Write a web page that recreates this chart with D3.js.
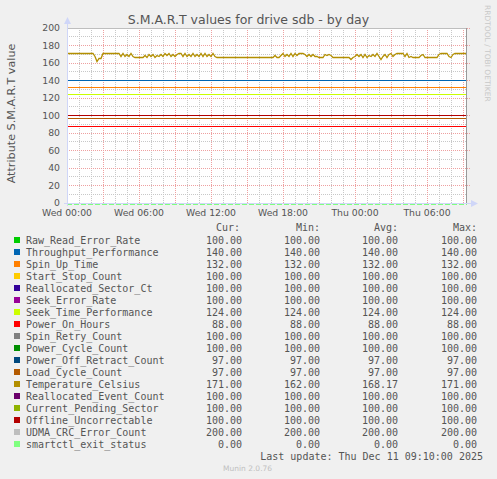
<!DOCTYPE html>
<html>
<head>
<meta charset="utf-8">
<script src="https://cdn.jsdelivr.net/npm/d3@7"></script>
<style>
  body { margin: 0; background: #f0f0f0; }
  svg { display: block; }
  text { fill: #555; }
</style>
</head>
<body>
<div id="chart"></div>
<script>
// series shown in the legend, in munin draw order
const names = [
  "Raw_Read_Error_Rate", "Throughput_Performance", "Spin_Up_Time", "Start_Stop_Count",
  "Reallocated_Sector_Ct", "Seek_Error_Rate", "Seek_Time_Performance", "Power_On_Hours",
  "Spin_Retry_Count", "Power_Cycle_Count", "Power_Off_Retract_Count", "Load_Cycle_Count",
  "Temperature_Celsius", "Reallocated_Event_Count", "Current_Pending_Sector",
  "Offline_Uncorrectable", "UDMA_CRC_Error_Count", "smartctl_exit_status"
];
const colors = [
  "#00CC00", "#0066B3", "#FF8000", "#FFCC00", "#330099", "#990099", "#CCFF00", "#FF0000",
  "#808080", "#008F00", "#00487D", "#B35A00", "#B38F00", "#6B006B", "#8FB300",
  "#B30000", "#BEBEBE", "#80FF80"
];
const cur = [100, 140, 132, 100, 100, 100, 124, 88, 100, 100, 97, 97, 171, 100, 100, 100, 200, 0];
const min = [100, 140, 132, 100, 100, 100, 124, 88, 100, 100, 97, 97, 162, 100, 100, 100, 200, 0];
const avg = [100, 140, 132, 100, 100, 100, 124, 88, 100, 100, 97, 97, 168.17, 100, 100, 100, 200, 0];
const max = [100, 140, 132, 100, 100, 100, 124, 88, 100, 100, 97, 97, 171, 100, 100, 100, 200, 0];

// Temperature_Celsius, one value every 10 minutes from Wed 00:00
const temperature = [
  171, 171, 171, 171, 171, 171, 171, 171, 171, 171, 171, 171, 171, 171,
  168, 162, 165, 165, 171,
  171, 171, 171, 171, 171, 171, 171, 171,
  168, 171, 168, 170, 168, 171, 168,
  166, 166, 166, 166, 166,
  169, 166, 170, 167, 170, 166, 169, 167, 170, 168, 171, 169, 171, 168, 170, 167, 170,
  171, 171,
  168, 171, 168, 170, 167, 171, 168, 170, 168,
  171, 168, 171, 167, 170, 167, 171, 168,
  166, 166, 166, 166, 166, 166, 166, 166, 166, 166, 166, 166, 166, 166, 166,
  166, 166, 166, 166, 166, 166, 166, 166, 166, 166, 166, 166, 166, 166,
  169, 166, 166,
  169, 171, 168, 170, 167, 171, 168, 171, 169,
  171, 171, 171, 170,
  168, 170, 167, 170, 168, 167,
  166, 166, 166,
  170, 169, 170, 169, 166,
  166, 166, 166, 166, 166, 166, 166, 166,
  164, 166,
  168, 170, 167, 170,
  166, 170, 166, 169, 167, 170,
  168, 171, 167, 164, 168,
  170, 166, 170, 171, 167, 170, 171,
  171, 171, 171,
  168, 171, 166, 168,
  166, 166, 166, 166,
  169, 170, 166,
  166, 166, 166, 166, 166, 166,
  170, 171, 171, 171, 171,
  167, 166, 170,
  171, 171, 171, 171, 171, 171, 171
];
const yTicks = [0, 20, 40, 60, 80, 100, 120, 140, 160, 180, 200];

const width = 497;
const height = 479;
const plot = { left: 67, right: 467, top: 28, bottom: 203 };

const start = new Date(Date.UTC(2025, 11, 10, 0, 0));
const end = new Date(start.getTime() + 2000 * 60000);
const step = 10 * 60000;

const svg = d3.select("#chart")
  .append("svg")
  .attr("width", width)
  .attr("height", height);

const x = d3.scaleUtc()
  .domain([start, end])
  .range([plot.left, plot.right]);

const y = d3.scaleLinear()
  .domain([0, 200])
  .range([plot.bottom, plot.top]);

svg.append("rect")
  .attr("x", plot.left).attr("y", plot.top)
  .attr("width", plot.right - plot.left).attr("height", plot.bottom - plot.top)
  .attr("fill", "#fff");

// grid
const grid = svg.append("g").attr("shape-rendering", "crispEdges").attr("stroke-dasharray", "1,1");
grid.selectAll(".vmin")
  .data(x.ticks(d3.utcHour.every(1)))
  .join("line")
    .attr("x1", d => Math.round(x(d)) + 0.5).attr("x2", d => Math.round(x(d)) + 0.5)
    .attr("y1", plot.top).attr("y2", plot.bottom)
    .attr("stroke", "#c8c8c8");
grid.selectAll(".hmin")
  .data(d3.range(10, 200, 20))
  .join("line")
    .attr("x1", plot.left).attr("x2", plot.right)
    .attr("y1", d => Math.floor(y(d)) + 0.5).attr("y2", d => Math.floor(y(d)) + 0.5)
    .attr("stroke", "#c8c8c8");
grid.selectAll(".vmaj")
  .data(x.ticks(d3.utcHour.every(3)))
  .join("line")
    .attr("x1", d => Math.round(x(d)) + 0.5).attr("x2", d => Math.round(x(d)) + 0.5)
    .attr("y1", plot.top).attr("y2", plot.bottom)
    .attr("stroke", "#eea0a0");
grid.selectAll(".hmaj")
  .data(yTicks.slice(1))
  .join("line")
    .attr("x1", plot.left).attr("x2", plot.right + 3)
    .attr("y1", d => Math.floor(y(d)) + 0.5).attr("y2", d => Math.floor(y(d)) + 0.5)
    .attr("stroke", "#eea0a0");

// series
const times = temperature.map((v, i) => new Date(start.getTime() + i * step));
const line = d3.line().x(d => x(d[0])).y(d => Math.floor(y(d[1])) + 0.5);

names.forEach((name, i) => {
  const isTemp = name === "Temperature_Celsius";
  const isExit = name === "smartctl_exit_status";
  const pts = isTemp
    ? temperature.map((v, j) => [times[j], v])
    : [[start, cur[i]], [end, cur[i]]];
  svg.append("path")
    .attr("d", line(pts))
    .attr("fill", "none")
    .attr("stroke", colors[i])
    .attr("stroke-width", isExit ? 2 : isTemp ? 1.3 : 1)
    .attr("shape-rendering", isTemp ? null : "crispEdges")
    .attr("stroke-dasharray", isExit ? "5,2" : null);
});

// right edge line
svg.append("line")
  .attr("x1", plot.right - 0.5).attr("x2", plot.right - 0.5)
  .attr("y1", plot.top).attr("y2", plot.bottom)
  .attr("stroke", "#999");

// axes
const axisColor = "#CFD6F8";
svg.append("line")
  .attr("x1", plot.left + 0.5).attr("x2", plot.left + 0.5)
  .attr("y1", plot.bottom + 3).attr("y2", plot.top - 6)
  .attr("stroke", axisColor);
svg.append("path")
  .attr("d", `M${plot.left - 3},${plot.top - 4}L${plot.left + 0.5},${plot.top - 11}L${plot.left + 4},${plot.top - 4}Z`)
  .attr("fill", axisColor);
svg.append("line")
  .attr("x1", plot.left - 3).attr("x2", plot.right + 6)
  .attr("y1", plot.bottom + 0.5).attr("y2", plot.bottom + 0.5)
  .attr("stroke", axisColor);
svg.append("path")
  .attr("d", `M${plot.right + 4},${plot.bottom - 3}L${plot.right + 11},${plot.bottom + 0.5}L${plot.right + 4},${plot.bottom + 4}Z`)
  .attr("fill", axisColor);

const fmt = d3.utcFormat("%a %H:%M");
svg.append("g")
  .attr("font-family", "DejaVu Sans")
  .attr("font-size", 9.3)
  .selectAll("text")
  .data(x.ticks(d3.utcHour.every(6)))
  .join("text")
    .attr("x", d => x(d))
    .attr("y", 215.5)
    .attr("text-anchor", "middle")
    .text(d => fmt(d));

svg.append("g")
  .attr("font-family", "DejaVu Sans")
  .attr("font-size", 9.3)
  .selectAll("text")
  .data(yTicks)
  .join("text")
    .attr("x", 60)
    .attr("y", d => y(d) + 3.3)
    .attr("text-anchor", "end")
    .text(d => d);

svg.append("text")
  .attr("transform", "translate(15,113.5) rotate(-90)")
  .attr("text-anchor", "middle")
  .attr("font-family", "DejaVu Sans")
  .attr("font-size", 11.2)
  .text("Attribute S.M.A.R.T value");

svg.append("text")
  .attr("x", 248.5).attr("y", 23.5)
  .attr("text-anchor", "middle")
  .attr("font-family", "DejaVu Sans")
  .attr("font-size", 12.5)
  .text("S.M.A.R.T values for drive sdb - by day");

svg.append("text")
  .attr("transform", "translate(484.5,5) rotate(90)")
  .attr("font-family", "DejaVu Sans")
  .attr("font-size", 7.5)
  .style("fill", "#c8c8c8")
  .text("RRDTOOL / TOBI OETIKER");

// legend
const legend = svg.append("g")
  .attr("font-family", "DejaVu Sans Mono")
  .attr("font-size", 10);
const colX = [242, 320, 398, 477];
["Cur:", "Min:", "Avg:", "Max:"].forEach((h, k) => {
  legend.append("text")
    .attr("x", colX[k] - (k === 0 ? 2 : 0)).attr("y", 231)
    .attr("text-anchor", "end")
    .text(h);
});
const rows = legend.selectAll("g.row")
  .data(names)
  .join("g")
    .attr("transform", (d, i) => `translate(0,${240 + i * 12})`);
rows.append("rect")
  .attr("x", 14).attr("y", -3).attr("width", 6).attr("height", 6)
  .attr("fill", (d, i) => colors[i]);
rows.append("text")
  .attr("x", 26).attr("y", 3.5)
  .text(d => d);
[cur, min, avg, max].forEach((col, k) => {
  rows.append("text")
    .attr("x", colX[k]).attr("y", 3.5)
    .attr("text-anchor", "end")
    .text((d, i) => col[i].toFixed(2));
});

legend.append("text")
  .attr("x", 483).attr("y", 459.5)
  .attr("text-anchor", "end")
  .text("Last update: Thu Dec 11 09:10:00 2025");

svg.append("text")
  .attr("x", 223).attr("y", 471)
  .attr("font-family", "DejaVu Sans")
  .attr("font-size", 7.5)
  .style("fill", "#c0c0c0")
  .text("Munin 2.0.76");
</script>
</body>
</html>
